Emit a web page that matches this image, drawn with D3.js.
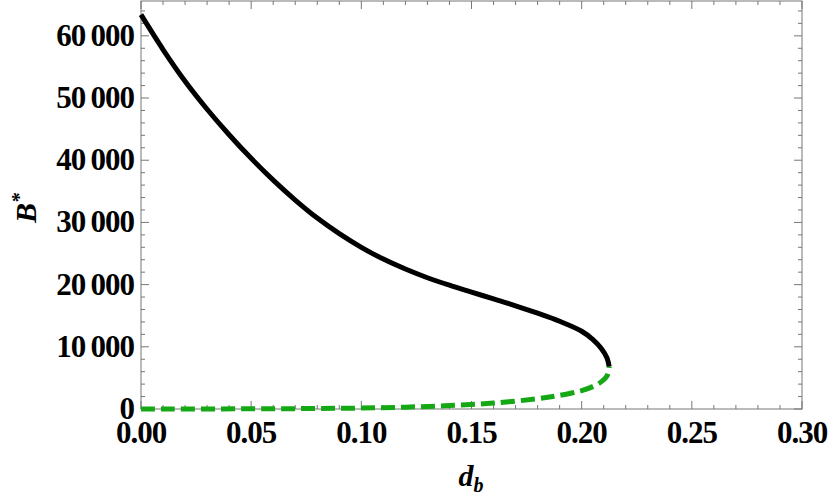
<!DOCTYPE html>
<html lang="en">
<head>
<meta charset="UTF-8">
<script src="https://d3js.org/d3.v7.min.js"></script>
<style>
  body { margin: 0; background: #fff; }
  text { font-family: "Liberation Serif", serif; font-weight: bold; }
</style>
</head>
<body>
<svg id="chart" width="830" height="497"></svg>
<script>
// stable (upper) branch, d_b -> B*
const upperD = [0, 0.01, 0.02, 0.03, 0.04, 0.05, 0.06, 0.07, 0.08, 0.09, 0.10, 0.11, 0.12, 0.13, 0.14, 0.15, 0.16, 0.17, 0.18, 0.19, 0.20, 0.205, 0.209, 0.2115, 0.2125];
const upperB = [63400, 57800, 52700, 48200, 44100, 40300, 36800, 33600, 30700, 28200, 26000, 24100, 22500, 21100, 19900, 18800, 17700, 16600, 15400, 14100, 12500, 11200, 9700, 8200, 6800];
// unstable (lower) branch
const lowerD = [0, 0.05, 0.08, 0.10, 0.12, 0.14, 0.16, 0.18, 0.19, 0.20, 0.205, 0.209, 0.2115, 0.2125];
const lowerB = [0, 30, 80, 150, 300, 550, 950, 1650, 2200, 2950, 3600, 4400, 5300, 6800];
const xMajor = [0, 0.05, 0.10, 0.15, 0.20, 0.25, 0.30];
const yMajor = [0, 10000, 20000, 30000, 40000, 50000, 60000];

const margin = { top: 1, left: 141 };
const svg = d3.select("#chart");
const x = d3.scaleLinear().domain([0, 0.30]).range([margin.left, 802]);
const y = d3.scaleLinear().domain([0, 65600]).range([409, margin.top]);

const fmt = v => d3.format(",")(v).replace(",", "\u2009");

// frame
svg.append("rect").attr("x", margin.left).attr("y", margin.top)
  .attr("width", 802 - margin.left).attr("height", 409 - margin.top)
  .attr("fill", "none").attr("stroke", "#777").attr("stroke-width", 1);

const tickCol = "#777";
d3.range(0, 0.3001, 0.01).forEach((v, i) => {
  const len = i % 5 === 0 ? 8 : 4;
  svg.append("line").attr("x1", x(v)).attr("x2", x(v)).attr("y1", 409).attr("y2", 409 - len).attr("stroke", tickCol);
  svg.append("line").attr("x1", x(v)).attr("x2", x(v)).attr("y1", margin.top).attr("y2", margin.top + len).attr("stroke", tickCol);
});
d3.range(0, 65001, 2000).forEach((v, i) => {
  const len = i % 5 === 0 ? 8 : 4;
  svg.append("line").attr("y1", y(v)).attr("y2", y(v)).attr("x1", margin.left).attr("x2", margin.left + len).attr("stroke", tickCol);
  svg.append("line").attr("y1", y(v)).attr("y2", y(v)).attr("x1", 802).attr("x2", 802 - len).attr("stroke", tickCol);
});

svg.selectAll(".xl").data(xMajor).enter().append("text")
  .attr("x", d => x(d)).attr("y", 443).attr("text-anchor", "middle")
  .attr("font-size", 31).attr("letter-spacing", -1).text(d => d.toFixed(2));
svg.selectAll(".yl").data(yMajor).enter().append("text")
  .attr("x", 134).attr("y", d => y(d) + 10).attr("text-anchor", "end")
  .attr("font-size", 31).attr("letter-spacing", -1).text(d => fmt(d));

// axis titles
svg.append("text").attr("x", 471).attr("y", 486).attr("text-anchor", "middle")
  .attr("font-size", 30).attr("font-style", "italic")
  .html('d<tspan font-size="20" dy="6">b</tspan>');
svg.append("text").attr("transform", "translate(36,208) rotate(-90)").attr("text-anchor", "middle")
  .attr("font-size", 30).attr("font-style", "italic")
  .html('B<tspan font-size="20" dy="-10">*</tspan>');

const line = d3.line().x(d => x(d[0])).y(d => y(d[1])).curve(d3.curveCatmullRom);

svg.append("path").datum(d3.zip(upperD, upperB)).attr("d", line)
  .attr("fill", "none").attr("stroke", "#000").attr("stroke-width", 5);
svg.append("path").datum(d3.zip(lowerD, lowerB)).attr("d", line)
  .attr("fill", "none").attr("stroke", "#14a814").attr("stroke-width", 5)
  .attr("stroke-dasharray", "14,6");
</script>
</body>
</html>
